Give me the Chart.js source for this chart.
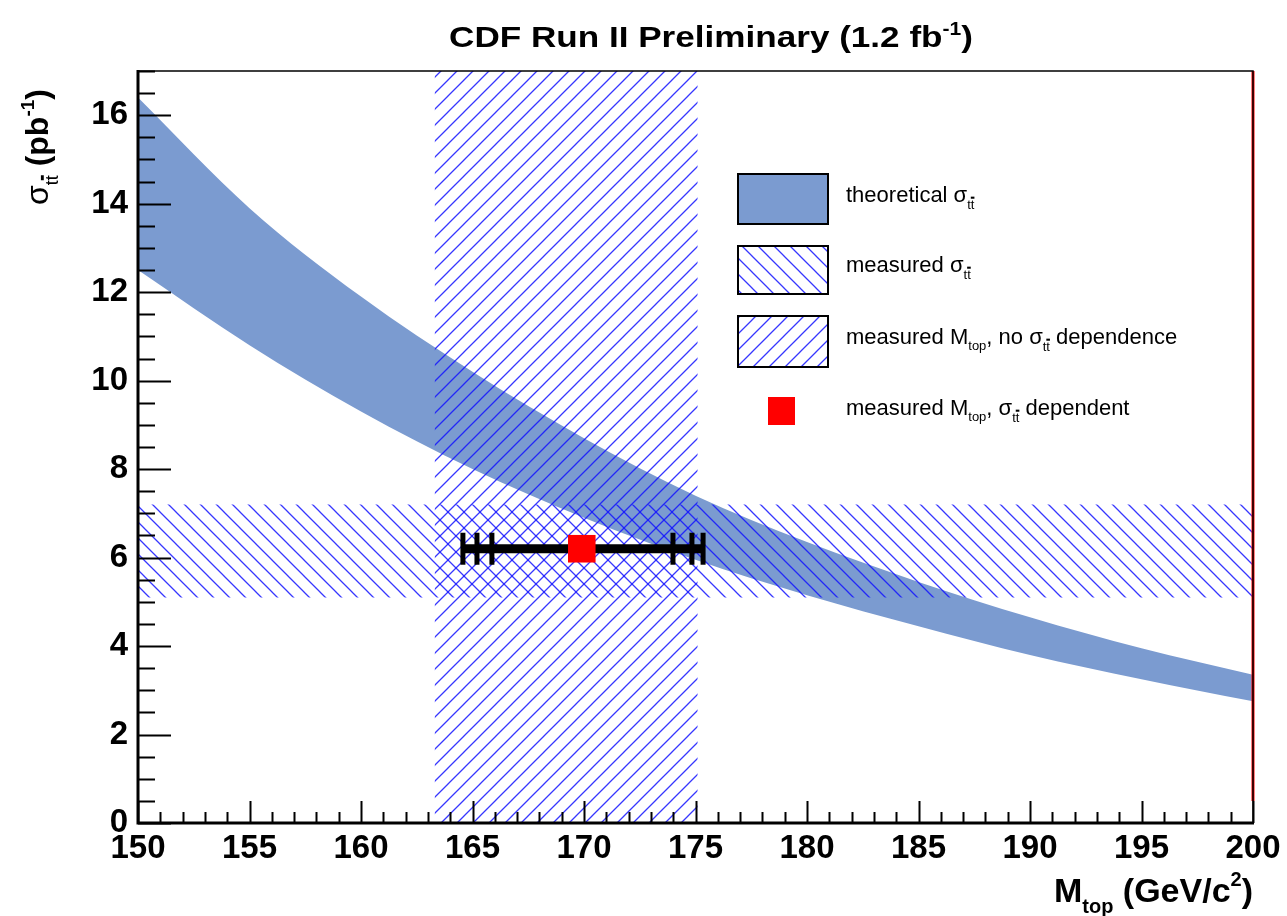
<!DOCTYPE html>
<html>
<head>
<meta charset="utf-8">
<script src="https://cdn.jsdelivr.net/npm/chart.js@4.4.1/dist/chart.umd.min.js"></script>
<style>
  html, body { margin: 0; padding: 0; background: #fff; }
  #wrap { width: 1287px; height: 916px; position: relative; }
</style>
</head>
<body>
<div id="wrap"><canvas id="c"></canvas></div>
<script>
// valores
const massPoints   = [150, 155, 160, 165, 170, 175, 180, 185, 190, 195, 200];
const theoryUpper  = [16.4, 13.9, 11.9, 10.2, 8.7, 7.4, 6.35, 5.45, 4.65, 3.95, 3.35];
const theoryLower  = [12.5, 10.8, 9.3, 8.0, 6.9, 5.95, 5.15, 4.45, 3.8, 3.25, 2.75];
const massBand     = [163.3, 175.1];       // M_top medido, sem dependencia
const xsBand       = [5.1, 7.2];           // sigma_tt medido
const xsMeasured   = 6.2;
const massCentral  = 169.9;
const massErrLow   = [165.87, 165.2, 164.57];
const massErrHigh  = [173.99, 174.84, 175.34];
const redLineY     = [0.5, 17];
const xRange       = [150, 200];
const yRange       = [0, 17];

const FONT = "'Liberation Sans', Arial, Helvetica, sans-serif";
const corBanda = '#7b9bd0';
const corHatch = 'rgba(20,20,255,0.85)';

// padrao de tracejado (hatch) em diagonal
function hatch(dir) {
  const s = 16;
  const cv = document.createElement('canvas');
  cv.width = s; cv.height = s;
  const g = cv.getContext('2d');
  g.strokeStyle = corHatch;
  g.lineWidth = 1.3;
  g.beginPath();
  if (dir === '/') {
    g.moveTo(0, s); g.lineTo(s, 0);
    g.moveTo(-2, 2); g.lineTo(2, -2);
    g.moveTo(s - 2, s + 2); g.lineTo(s + 2, s - 2);
  } else {
    g.moveTo(0, 0); g.lineTo(s, s);
    g.moveTo(s - 2, -2); g.lineTo(s + 2, 2);
    g.moveTo(-2, s - 2); g.lineTo(2, s + 2);
  }
  g.stroke();
  return g.createPattern(cv, 'repeat');
}
const hatchSlash = hatch('/');
const hatchBack = hatch('\\');

const pts = (xs, ys) => xs.map((x, i) => ({ x, y: ys[i] }));

// texto com indices / expoentes
function richWidth(ctx, parts) {
  let w = 0;
  parts.forEach(p => { ctx.font = (p.bold ? 'bold ' : '') + p.size + 'px ' + FONT; w += ctx.measureText(p.t).width; });
  return w;
}
function drawRich(ctx, x, y, parts, align) {
  const total = richWidth(ctx, parts);
  let cx = align === 'right' ? x - total : (align === 'center' ? x - total / 2 : x);
  ctx.textBaseline = 'alphabetic';
  ctx.textAlign = 'left';
  parts.forEach(p => {
    ctx.font = (p.bold ? 'bold ' : '') + p.size + 'px ' + FONT;
    const w = ctx.measureText(p.t).width;
    ctx.fillStyle = p.color || '#000';
    ctx.fillText(p.t, cx, y + (p.dy || 0));
    if (p.bar) {
      ctx.fillRect(cx, y + (p.dy || 0) - p.size * 0.95, w, Math.max(2, p.size * 0.16));
    }
    cx += w;
  });
}
const sigTT = (size, sub, dy, bold) => [
  { t: 'σ', size, bold },
  { t: 't', size: sub, dy },
  { t: 't', size: sub, dy, bar: true }
];

const decor = {
  id: 'decor',
  afterDraw(chart) {
    const ctx = chart.ctx;
    const { left, right, top, bottom } = chart.chartArea;
    const xs = chart.scales.x, ys = chart.scales.y;
    ctx.save();

    // marcas dos eixos (para dentro)
    ctx.strokeStyle = '#000';
    ctx.lineWidth = 2;
    ctx.beginPath();
    ys.ticks.forEach(t => {
      const py = Math.round(ys.getPixelForValue(t.value)) + 0.5;
      const major = Math.abs(t.value / 2 - Math.round(t.value / 2)) < 1e-6;
      ctx.moveTo(left, py); ctx.lineTo(left + (major ? 33 : 17), py);
    });
    xs.ticks.forEach(t => {
      const px = Math.round(xs.getPixelForValue(t.value)) + 0.5;
      const major = Math.abs(t.value / 5 - Math.round(t.value / 5)) < 1e-6;
      ctx.moveTo(px, bottom); ctx.lineTo(px, bottom - (major ? 22 : 11));
    });
    ctx.stroke();

    // moldura
    ctx.lineWidth = 1.5;
    ctx.beginPath();
    ctx.moveTo(left, top); ctx.lineTo(right, top); ctx.lineTo(right, bottom);
    ctx.stroke();
    ctx.lineWidth = 3;
    ctx.beginPath();
    ctx.moveTo(left, top - 1); ctx.lineTo(left, bottom); ctx.lineTo(right + 1, bottom);
    ctx.stroke();

    // titulo
    ctx.save();
    ctx.translate(711, 47);
    ctx.scale(1.17, 1);
    drawRich(ctx, 0, 0, [
      { t: 'CDF Run II Preliminary (1.2 fb', size: 30, bold: true },
      { t: '-1', size: 18, bold: true, dy: -12 },
      { t: ')', size: 30, bold: true }
    ], 'center');
    ctx.restore();

    // titulo eixo x
    drawRich(ctx, 1253, 902, [
      { t: 'M', size: 34, bold: true },
      { t: 'top', size: 20, bold: true, dy: 11 },
      { t: ' (GeV/c', size: 34, bold: true },
      { t: '2', size: 20, bold: true, dy: -16 },
      { t: ')', size: 34, bold: true }
    ], 'right');

    // titulo eixo y
    ctx.save();
    ctx.translate(48, 205);
    ctx.rotate(-Math.PI / 2);
    drawRich(ctx, 0, 0, [
      ...sigTT(32, 18, 10),
      { t: ' (pb', size: 32, bold: true },
      { t: '-1', size: 19, bold: true, dy: -14 },
      { t: ')', size: 32, bold: true }
    ], 'left');
    ctx.restore();

    // legenda
    const bx = 738, bw = 90;
    const caixas = [
      { y: 174, h: 50, fill: corBanda },
      { y: 246, h: 48, fill: hatchBack },
      { y: 316, h: 51, fill: hatchSlash }
    ];
    caixas.forEach(c => {
      ctx.fillStyle = '#fff';
      ctx.fillRect(bx, c.y, bw, c.h);
      ctx.fillStyle = c.fill;
      ctx.fillRect(bx, c.y, bw, c.h);
      ctx.strokeStyle = '#000';
      ctx.lineWidth = 2;
      ctx.strokeRect(bx, c.y, bw, c.h);
    });
    ctx.fillStyle = '#ff0000';
    ctx.fillRect(768, 397, 27, 28);

    const tx = 846, fs = 22, ss = 13;
    drawRich(ctx, tx, 202, [{ t: 'theoretical ', size: fs }, ...sigTT(fs, ss, 7)], 'left');
    drawRich(ctx, tx, 272, [{ t: 'measured ', size: fs }, ...sigTT(fs, ss, 7)], 'left');
    drawRich(ctx, tx, 344, [
      { t: 'measured M', size: fs }, { t: 'top', size: ss, dy: 6 }, { t: ', no ', size: fs },
      ...sigTT(fs, ss, 7), { t: ' dependence', size: fs }
    ], 'left');
    drawRich(ctx, tx, 415, [
      { t: 'measured M', size: fs }, { t: 'top', size: ss, dy: 6 }, { t: ', ', size: fs },
      ...sigTT(fs, ss, 7), { t: ' dependent', size: fs }
    ], 'left');

    ctx.restore();
  }
};

new Chart(document.getElementById('c'), {
  type: 'scatter',
  data: {
    datasets: [
      { // 0 - limite inferior teorico
        data: pts(massPoints, theoryLower), showLine: true, borderWidth: 0, pointRadius: 0,
        borderColor: corBanda, cubicInterpolationMode: 'monotone', order: 10
      },
      { // 1 - limite superior teorico, preenchido ate ao inferior
        data: pts(massPoints, theoryUpper), showLine: true, borderWidth: 0, pointRadius: 0,
        borderColor: corBanda, backgroundColor: corBanda, fill: '-1',
        cubicInterpolationMode: 'monotone', order: 9
      },
      { // 2 - banda vertical M_top
        data: pts(massBand, [yRange[1], yRange[1]]), showLine: true, borderWidth: 0, pointRadius: 0,
        backgroundColor: hatchSlash, fill: 'origin', order: 6
      },
      { // 3 - sigma medido (inferior)
        data: pts(xRange, [xsBand[0], xsBand[0]]), showLine: true, borderWidth: 0, pointRadius: 0,
        order: 5
      },
      { // 4 - sigma medido (superior)
        data: pts(xRange, [xsBand[1], xsBand[1]]), showLine: true, borderWidth: 0, pointRadius: 0,
        backgroundColor: hatchBack, fill: '-1', order: 4
      },
      { // 5 - barra de erro
        data: pts([massErrLow[2], massErrHigh[2]], [xsMeasured, xsMeasured]), showLine: true,
        borderColor: '#000', borderWidth: 9, pointRadius: 0, order: 3
      },
      { // 6 - marcas da barra de erro
        data: pts([...massErrLow, ...massErrHigh], Array(6).fill(xsMeasured)),
        pointStyle: 'line', rotation: 90, pointRadius: 16, borderWidth: 5,
        borderColor: '#000', backgroundColor: '#000', order: 2
      },
      { // 7 - ponto medido
        data: [{ x: massCentral, y: xsMeasured }], pointStyle: 'rect', pointRadius: 19.5,
        backgroundColor: '#ff0000', borderColor: '#ff0000', borderWidth: 0, order: 1
      },
      { // 8 - linha vermelha na borda
        data: pts([xRange[1], xRange[1]], redLineY), showLine: true, pointRadius: 0,
        borderColor: '#ff0000', borderWidth: 3, clip: false, order: 0
      }
    ]
  },
  options: {
    responsive: true,
    maintainAspectRatio: false,
    animation: false,
    events: [],
    layout: { padding: { top: 71, right: 34, left: 0, bottom: 0 } },
    plugins: { legend: { display: false }, tooltip: { enabled: false }, title: { display: false } },
    scales: {
      x: {
        type: 'linear', min: xRange[0], max: xRange[1],
        grid: { display: false, drawTicks: false },
        border: { display: false },
        ticks: {
          stepSize: 1, autoSkip: false, maxRotation: 0, padding: 6,
          color: '#000', font: { family: FONT, size: 33, weight: 'bold' },
          callback: v => (v % 5 === 0 ? String(v) : '')
        },
        afterFit: s => { s.height = 93; }
      },
      y: {
        min: yRange[0], max: yRange[1],
        grid: { display: false, drawTicks: false },
        border: { display: false },
        ticks: {
          stepSize: 0.5, autoSkip: false, padding: 10,
          color: '#000', font: { family: FONT, size: 33, weight: 'bold' },
          callback: v => (v % 2 === 0 ? String(v) : '')
        },
        afterFit: s => { s.width = 138; }
      }
    }
  },
  plugins: [decor]
});
</script>
</body>
</html>
